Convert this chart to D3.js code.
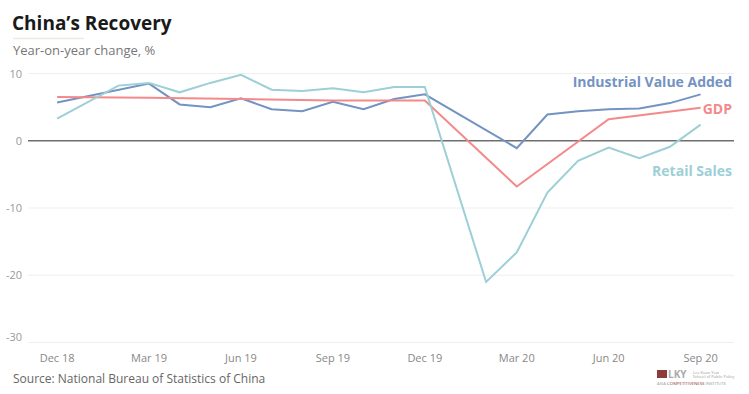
<!DOCTYPE html>
<html lang="en">
<head>
<meta charset="UTF-8">
<title>China's Recovery</title>
<script src="https://d3js.org/d3.v7.min.js"></script>
<style>
  body { margin: 0; background: #fff; }
  svg text { font-family: "Open Sans", Lato, sans-serif; }
</style>
</head>
<body>
<div id="chart"></div>
<script>
// month labels, Dec 18 .. Sep 20
var months = ["Dec 18","Jan 19","Feb 19","Mar 19","Apr 19","May 19","Jun 19","Jul 19","Aug 19","Sep 19","Oct 19","Nov 19",
              "Dec 19","Jan 20","Feb 20","Mar 20","Apr 20","May 20","Jun 20","Jul 20","Aug 20","Sep 20"];
var tickMonths = ["Dec 18","Mar 19","Jun 19","Sep 19","Dec 19","Mar 20","Jun 20","Sep 20"];
var yTicks = [10, 0, -10, -20, -30];

// null = no value that month
var industrial = [5.7, null, null, 8.5, 5.4, 5.0, 6.3, 4.7, 4.4, 5.8, 4.7, 6.2,
                  6.9, null, null, -1.1, 3.9, 4.4, 4.7, 4.8, 5.6, 6.9];
var gdp        = [6.5, null, null, 6.4, null, null, 6.2, null, null, 6.0, null, null,
                  6.0, null, null, -6.8, null, null, 3.2, null, null, 4.9];
var retail     = [3.3, null, 8.2, 8.6, 7.2, 8.6, 9.8, 7.6, 7.4, 7.8, 7.2, 8.0,
                  8.0, null, -21.0, -16.6, -7.7, -3.0, -1.0, -2.6, -0.9, 2.4];

var series = [
  {name: "Industrial Value Added", values: industrial, color: "#7393c2", labelY: 82},
  {name: "GDP", values: gdp, color: "#f4898a", labelY: 109},
  {name: "Retail Sales", values: retail, color: "#9ccfd6", labelY: 171}
];

var W = 749, H = 394;
var plotL = 28, plotR = 734, plotT = 73.5, plotB = 342.5;

var svg = d3.select("#chart").append("svg")
    .attr("width", W)
    .attr("height", H);

var x = d3.scaleLinear()
    .domain([-0.95, months.length - 1 + 1.09])
    .range([plotL, plotR]);

var y = d3.scaleLinear()
    .domain([-30, 10])
    .range([plotB, plotT]);

// title
svg.append("text")
    .attr("x", 12).attr("y", 30)
    .style("font-size", "19px")
    .style("font-weight", "bold")
    .style("fill", "#1a1a1a")
    .text("China\u2019s Recovery");
svg.append("line")
    .attr("x1", 13).attr("x2", 84)
    .attr("y1", 38.5).attr("y2", 38.5)
    .style("stroke", "#efe9e3")
    .style("stroke-width", 1.5);
svg.append("text")
    .attr("x", 13).attr("y", 55)
    .style("font-size", "13px")
    .style("fill", "#777")
    .text("Year-on-year change, %");

// grid
svg.selectAll(".grid")
    .data(yTicks.filter(function(d) { return d !== 0; }))
  .enter().append("line")
    .attr("class", "grid")
    .attr("x1", plotL).attr("x2", plotR)
    .attr("y1", function(d) { return y(d); })
    .attr("y2", function(d) { return y(d); })
    .style("stroke", "#efefef")
    .style("stroke-width", 1);

svg.selectAll(".ylab")
    .data(yTicks)
  .enter().append("text")
    .attr("class", "ylab")
    .attr("x", 22)
    .attr("y", function(d) { return Math.min(y(d) + 4, 341); })
    .style("text-anchor", "end")
    .style("font-size", "11px")
    .style("fill", "#999")
    .text(function(d) { return d; });

svg.selectAll(".xlab")
    .data(tickMonths)
  .enter().append("text")
    .attr("class", "xlab")
    .attr("x", function(d) { return x(months.indexOf(d)); })
    .attr("y", 362)
    .style("text-anchor", "middle")
    .style("font-size", "11px")
    .style("fill", "#888")
    .text(function(d) { return d; });

// zero line
svg.append("line")
    .attr("x1", plotL).attr("x2", plotR)
    .attr("y1", y(0)).attr("y2", y(0))
    .style("stroke", "#6e6e6e")
    .style("stroke-width", 1.5);

var line = d3.line()
    .x(function(d) { return x(d.i); })
    .y(function(d) { return y(d.v); });

series.forEach(function(s) {
  var pts = s.values.map(function(v, i) { return {i: i, v: v}; })
      .filter(function(d) { return d.v !== null; });
  svg.append("path")
      .datum(pts)
      .attr("d", line)
      .style("fill", "none")
      .style("stroke", s.color)
      .style("stroke-width", 2);
  svg.append("text")
      .attr("x", 732)
      .attr("y", s.labelY + 5)
      .style("text-anchor", "end")
      .style("font-size", "14px")
      .style("font-weight", "bold")
      .style("fill", s.color)
      .text(s.name);
});

// source
svg.append("text")
    .attr("x", 13).attr("y", 383)
    .style("font-size", "12px")
    .style("fill", "#666")
    .text("Source: National Bureau of Statistics of China");

// logo
var logo = svg.append("g").attr("transform", "translate(657,370)");
logo.append("rect").attr("width", 10).attr("height", 8).style("fill", "#8c3b3b");
logo.append("text").attr("x", 11).attr("y", 8)
    .style("font-size", "10px").style("font-weight", "bold").style("fill", "#aaa")
    .text("LKY");
logo.append("text").attr("x", 36).attr("y", 3.5)
    .style("font-size", "4px").style("fill", "#999").text("Lee Kuan Yew");
logo.append("text").attr("x", 36).attr("y", 7.5)
    .style("font-size", "4px").style("fill", "#999").text("School of Public Policy");
var aci = logo.append("text").attr("x", 0).attr("y", 15).style("font-size", "4.3px");
aci.append("tspan").style("fill", "#999").text("ASIA ");
aci.append("tspan").style("fill", "#8c3b3b").text("COMPETITIVENESS");
aci.append("tspan").style("fill", "#999").text(" INSTITUTE");
</script>
</body>
</html>
